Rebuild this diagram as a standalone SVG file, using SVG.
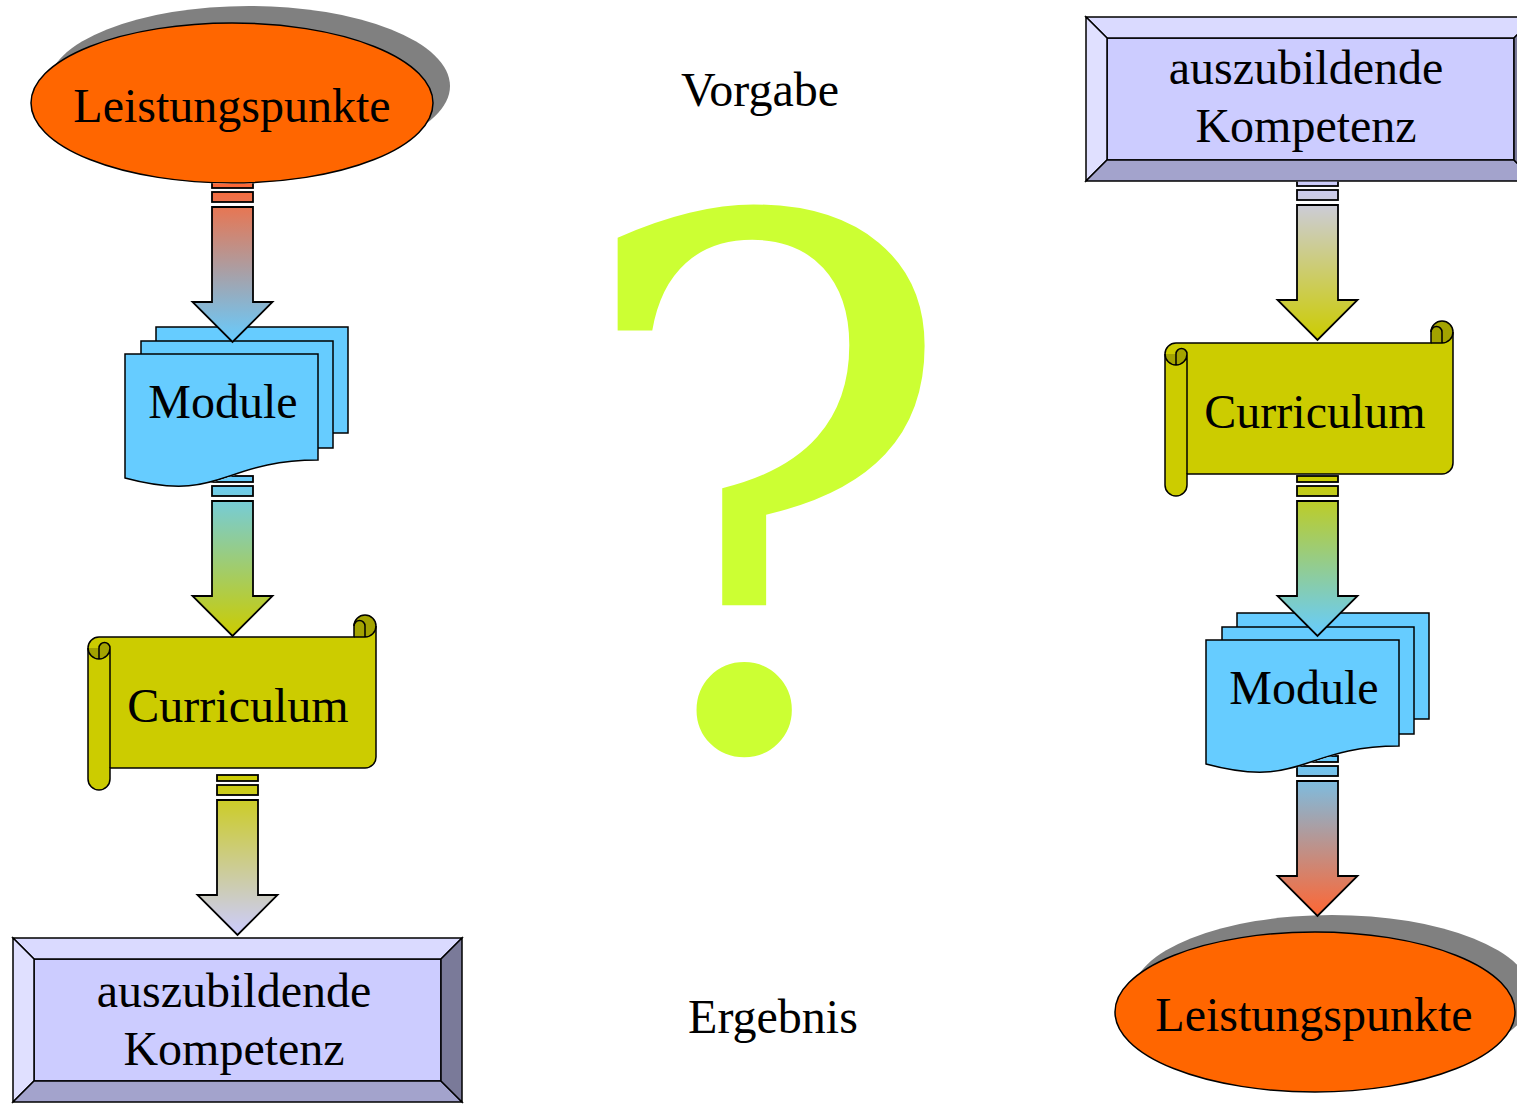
<svg xmlns="http://www.w3.org/2000/svg" xmlns:xlink="http://www.w3.org/1999/xlink" width="1517" height="1104" viewBox="0 0 1517 1104">
<defs>
<style>
.t{font-family:"Liberation Serif","Times New Roman",serif;font-size:48px;fill:#000;text-anchor:middle}
.q{font-family:"DejaVu Serif",serif;font-size:731px;fill:#ccff33;text-anchor:middle}
.oval{fill:#ff6600;stroke:#000;stroke-width:1.5}
.shadow{fill:#808080}
.arrow{stroke:#000;stroke-width:1.8;stroke-linejoin:miter}
</style>
<linearGradient id="gA1" gradientUnits="userSpaceOnUse" x1="0" y1="0" x2="0" y2="160"><stop offset="0" stop-color="#ff6633"/><stop offset="1" stop-color="#66ccff"/></linearGradient>
<linearGradient id="gA2" gradientUnits="userSpaceOnUse" x1="0" y1="0" x2="0" y2="160"><stop offset="0" stop-color="#66ccff"/><stop offset="1" stop-color="#cccc00"/></linearGradient>
<linearGradient id="gA3" gradientUnits="userSpaceOnUse" x1="0" y1="0" x2="0" y2="160"><stop offset="0" stop-color="#cccc00"/><stop offset="1" stop-color="#ccccff"/></linearGradient>
<linearGradient id="gR1" gradientUnits="userSpaceOnUse" x1="0" y1="0" x2="0" y2="160"><stop offset="0" stop-color="#ccccff"/><stop offset="1" stop-color="#cccc00"/></linearGradient>
<linearGradient id="gR2" gradientUnits="userSpaceOnUse" x1="0" y1="0" x2="0" y2="160"><stop offset="0" stop-color="#cccc00"/><stop offset="1" stop-color="#66ccff"/></linearGradient>
<linearGradient id="gR3" gradientUnits="userSpaceOnUse" x1="0" y1="0" x2="0" y2="160"><stop offset="0" stop-color="#66ccff"/><stop offset="1" stop-color="#ff6633"/></linearGradient>

<g id="arw">
<rect x="-20.5" y="0" width="41" height="6"/>
<rect x="-20.5" y="10" width="41" height="10"/>
<path d="M-20.5,25 H20.5 V120 H40 L0,160 L-40,120 H-20.5 Z"/>
</g>

<path id="scrollBody" d="M0,33 A11,11 0 0 1 11,22 H266 V11 A11,11 0 0 1 288,11 V142 A11,11 0 0 1 277,153 H22 V164 A11,11 0 0 1 0,164 Z"/>
<g id="scroll" stroke-linejoin="round">
<use xlink:href="#scrollBody" fill="#cccc00" stroke="none"/>
<path d="M266,22 V11 A11,11 0 0 1 288,11 A11,11 0 0 1 277,22 Z" fill="#a3a300"/>
<path d="M0,33 A11,11 0 0 0 22,33 A5.5,5.5 0 0 0 11,33 Z" fill="#a3a300"/>
<use xlink:href="#scrollBody" fill="none" stroke="#000" stroke-width="1.5"/>
<path d="M277,22 V11 A5.5,5.5 0 0 0 266,11 M266,22 H277 A11,11 0 0 0 288,11 M11,44 V33 A5.5,5.5 0 0 1 22,33 M22,33 A11,11 0 0 1 0,33 M22,33 V153" fill="none" stroke="#000" stroke-width="1.5"/>
</g>

<path id="docFront" d="M0,0 H193 V106 C96.5,106 96.5,150 0,124 Z"/>
<g id="module" fill="#66ccff" stroke="#000" stroke-width="1.5">
<rect x="31" y="-27" width="192" height="106"/>
<rect x="16" y="-13" width="192" height="107"/>
<use xlink:href="#docFront"/>
</g>

<g id="bevel" stroke="#000" stroke-width="1.5" stroke-linejoin="miter">
<rect x="21" y="21" width="407" height="122" fill="#ccccff"/>
<path d="M0,0 H449 L428,21 H21 Z" fill="#dadaff"/>
<path d="M0,0 L21,21 V143 L0,164 Z" fill="#e0e0ff"/>
<path d="M0,164 L21,143 H428 L449,164 Z" fill="#a3a3cc"/>
<path d="M449,0 V164 L428,143 V21 Z" fill="#7a7a99"/>
</g>

<mask id="mA1" maskUnits="userSpaceOnUse" x="0" y="0" width="1517" height="1104"><rect width="1517" height="1104" fill="#fff"/><ellipse cx="232" cy="103" rx="201" ry="80" fill="#000" stroke="#000" stroke-width="1.5"/></mask>
<mask id="mA2" maskUnits="userSpaceOnUse" x="0" y="0" width="1517" height="1104"><rect width="1517" height="1104" fill="#fff"/><use xlink:href="#docFront" transform="translate(125,354)" fill="#000" stroke="#000" stroke-width="1.5"/></mask>
<mask id="mA3" maskUnits="userSpaceOnUse" x="0" y="0" width="1517" height="1104"><rect width="1517" height="1104" fill="#fff"/><use xlink:href="#scrollBody" transform="translate(88,615)" fill="#000" stroke="#000" stroke-width="1.5"/></mask>
<mask id="mR1" maskUnits="userSpaceOnUse" x="0" y="0" width="1517" height="1104"><rect width="1517" height="1104" fill="#fff"/><rect x="1086" y="17" width="449" height="164" fill="#000" stroke="#000" stroke-width="1.5"/></mask>
<mask id="mR2" maskUnits="userSpaceOnUse" x="0" y="0" width="1517" height="1104"><rect width="1517" height="1104" fill="#fff"/><use xlink:href="#scrollBody" transform="translate(1165,321)" fill="#000" stroke="#000" stroke-width="1.5"/></mask>
<mask id="mR3" maskUnits="userSpaceOnUse" x="0" y="0" width="1517" height="1104"><rect width="1517" height="1104" fill="#fff"/><use xlink:href="#docFront" transform="translate(1206,640)" fill="#000" stroke="#000" stroke-width="1.5"/></mask>
</defs>

<rect width="1517" height="1104" fill="#fff"/>

<g id="question-mark">
<text class="q" x="764" y="747">?</text>
</g>
<g id="label-vorgabe"><text class="t" x="760" y="106">Vorgabe</text></g>
<g id="label-ergebnis"><text class="t" x="773" y="1033">Ergebnis</text></g>

<!-- left column -->
<g id="left-leistungspunkte">
<ellipse class="shadow" cx="249" cy="86" rx="201" ry="80"/>
<ellipse class="oval" cx="232" cy="103" rx="201" ry="80"/>
<text class="t" x="232" y="122">Leistungspunkte</text>
</g>
<g id="left-module">
<use xlink:href="#module" transform="translate(125,354)"/>
<text class="t" x="223" y="418">Module</text>
</g>
<g id="left-curriculum">
<use xlink:href="#scroll" transform="translate(88,615)"/>
<text class="t" x="238" y="722">Curriculum</text>
</g>
<g id="left-kompetenz">
<use xlink:href="#bevel" transform="translate(13,938)"/>
<text class="t" x="234" y="1007">auszubildende</text>
<text class="t" x="234" y="1065">Kompetenz</text>
</g>

<!-- right column -->
<g id="right-kompetenz">
<use xlink:href="#bevel" transform="translate(1086,17)"/>
<text class="t" x="1306" y="84">auszubildende</text>
<text class="t" x="1306" y="142">Kompetenz</text>
</g>
<g id="right-curriculum">
<use xlink:href="#scroll" transform="translate(1165,321)"/>
<text class="t" x="1315" y="428">Curriculum</text>
</g>
<g id="right-module">
<use xlink:href="#module" transform="translate(1206,640)"/>
<text class="t" x="1304" y="704">Module</text>
</g>
<g id="right-leistungspunkte">
<ellipse class="shadow" cx="1332" cy="995" rx="200" ry="80"/>
<ellipse class="oval" cx="1315" cy="1012" rx="200" ry="80"/>
<text class="t" x="1314" y="1031">Leistungspunkte</text>
</g>

<g id="connectors">
<g mask="url(#mA1)"><use xlink:href="#arw" class="arrow" fill="url(#gA1)" transform="translate(232.5,182)"/></g>
<g mask="url(#mA2)"><use xlink:href="#arw" class="arrow" fill="url(#gA2)" transform="translate(232.5,476)"/></g>
<g mask="url(#mA3)"><use xlink:href="#arw" class="arrow" fill="url(#gA3)" transform="translate(237.5,775)"/></g>
<g mask="url(#mR1)"><use xlink:href="#arw" class="arrow" fill="url(#gR1)" transform="translate(1317.5,180)"/></g>
<g mask="url(#mR2)"><use xlink:href="#arw" class="arrow" fill="url(#gR2)" transform="translate(1317.5,476)"/></g>
<g mask="url(#mR3)"><use xlink:href="#arw" class="arrow" fill="url(#gR3)" transform="translate(1317.5,756)"/></g>
</g>
</svg>
